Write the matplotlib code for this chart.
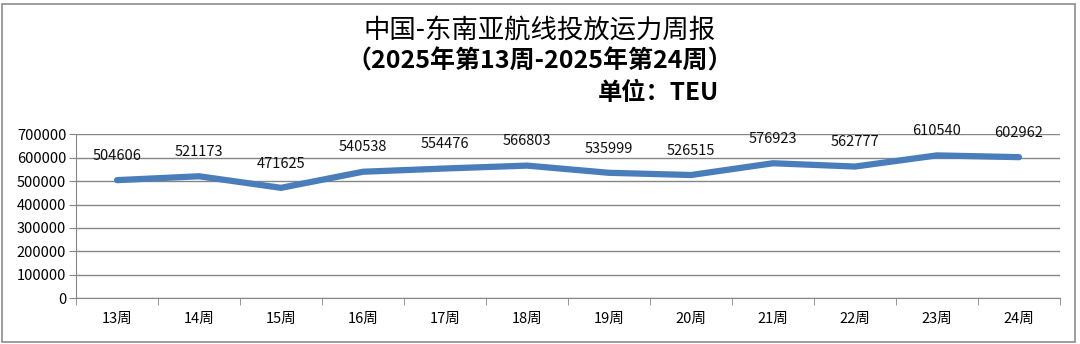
import matplotlib.pyplot as plt

plt.rcParams['font.family'] = ['Noto Sans CJK SC', 'DejaVu Sans']

weeks = ['13周', '14周', '15周', '16周', '17周', '18周', '19周', '20周', '21周', '22周', '23周', '24周']
teu = [504606, 521173, 471625, 540538, 554476, 566803, 535999, 526515, 576923, 562777, 610540, 602962]

fig = plt.figure(figsize=(10.8, 3.44), dpi=100)
ax = fig.add_axes([76 / 1080, 1 - 298 / 344, (1060 - 76) / 1080, (298 - 134.5) / 344])

x = list(range(len(weeks)))
ax.plot(x, teu, color='#4a7ebb', lw=4.5, solid_capstyle='round', solid_joinstyle='round', zorder=3)
for xi, v in zip(x, teu):
    ax.annotate(str(v), (xi, v), xytext=(0, 17.5), textcoords='offset points',
                ha='center', va='center', fontsize=10.5, color='#111111')

ax.set_xlim(-0.5, len(weeks) - 0.5)
ax.set_ylim(0, 700000)
ax.set_yticks(range(0, 700001, 100000))
ax.set_yticklabels([str(v) for v in range(0, 700001, 100000)])
ax.set_xticks(x)
ax.set_xticklabels(weeks)
ax.set_xticks([i - 0.5 for i in range(len(weeks) + 1)], minor=True)
ax.tick_params(axis='x', which='major', length=0, pad=10, labelsize=10.5)
ax.tick_params(axis='x', which='minor', length=5, color='#868686', direction='out')
ax.tick_params(axis='y', length=5, color='#868686', labelsize=10.5, pad=2)
ax.grid(axis='y', color='#868686', lw=1)
ax.set_axisbelow(True)
for s in ['top', 'right']:
    ax.spines[s].set_visible(False)
for s in ['left', 'bottom']:
    ax.spines[s].set_color('#868686')

fig.text(0.5, 1 - 31 / 344, '中国-东南亚航线投放运力周报', ha='center', va='center', fontsize=19)
fig.text(0.5, 1 - 61 / 344, '（2025年第13周-2025年第24周）', ha='center', va='center',
         fontsize=18, fontweight='bold')
fig.text(719 / 1080, 1 - 93 / 344, '单位：TEU', ha='right', va='center', fontsize=17.5, fontweight='bold')

border = plt.Rectangle((2 / 1080, 2 / 344), 1073 / 1080, 338 / 344, transform=fig.transFigure,
                       fill=False, edgecolor='#8c8c8c', lw=1.2)
fig.patches.append(border)

fig.savefig('out.png', dpi=100)
